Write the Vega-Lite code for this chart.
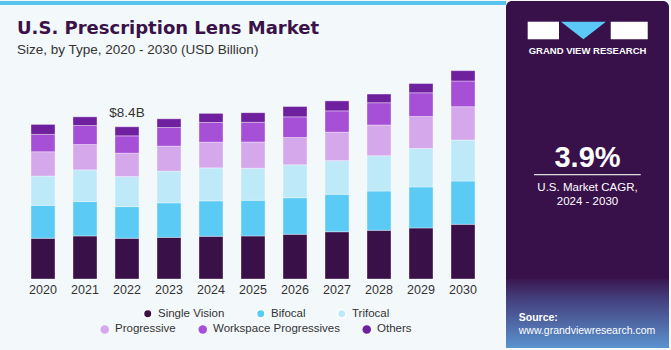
{
  "$schema": "https://vega.github.io/schema/vega-lite/v6.json",
  "background": "#f3f8fb",
  "padding": {"left": 0, "top": 0, "right": 2, "bottom": 3},
  "spacing": 0,
  "resolve": {"scale": {"color": "independent", "fill": "independent"}},
  "config": {
    "view": {"stroke": null},
    "legend": {
      "symbolType": "circle",
      "symbolSize": 72,
      "labelFont": "Liberation Sans",
      "labelFontSize": 11.5,
      "labelColor": "#333333",
      "columnPadding": 21,
      "labelOffset": 4.5,
      "padding": 0,
      "rowPadding": 4
    }
  },
  "hconcat": [
    {
      "width": 506,
      "height": 278,
      "title": {
        "text": "U.S. Prescription Lens Market",
        "subtitle": "Size, by Type, 2020 - 2030 (USD Billion)",
        "anchor": "start",
        "frame": "group",
        "orient": "top",
        "offset": -56,
        "dx": 17,
        "font": "DejaVu Sans",
        "fontSize": 18,
        "fontWeight": "bold",
        "color": "#3a1248",
        "subtitleFont": "Liberation Sans",
        "subtitleFontSize": 13.5,
        "subtitleColor": "#333333",
        "subtitlePadding": 5
      },
      "data": {
        "values": [
          {"year": "2020", "type": "Single Vision", "k": 1, "value": 2.25},
          {"year": "2020", "type": "Bifocal", "k": 2, "value": 1.82},
          {"year": "2020", "type": "Trifocal", "k": 3, "value": 1.62},
          {"year": "2020", "type": "Progressive", "k": 4, "value": 1.34},
          {"year": "2020", "type": "Workspace Progressives", "k": 5, "value": 0.96},
          {"year": "2020", "type": "Others", "k": 6, "value": 0.55},
          {"year": "2021", "type": "Single Vision", "k": 1, "value": 2.38},
          {"year": "2021", "type": "Bifocal", "k": 2, "value": 1.90},
          {"year": "2021", "type": "Trifocal", "k": 3, "value": 1.75},
          {"year": "2021", "type": "Progressive", "k": 4, "value": 1.40},
          {"year": "2021", "type": "Workspace Progressives", "k": 5, "value": 1.05},
          {"year": "2021", "type": "Others", "k": 6, "value": 0.48},
          {"year": "2022", "type": "Single Vision", "k": 1, "value": 2.25},
          {"year": "2022", "type": "Bifocal", "k": 2, "value": 1.75},
          {"year": "2022", "type": "Trifocal", "k": 3, "value": 1.66},
          {"year": "2022", "type": "Progressive", "k": 4, "value": 1.29},
          {"year": "2022", "type": "Workspace Progressives", "k": 5, "value": 0.96},
          {"year": "2022", "type": "Others", "k": 6, "value": 0.50},
          {"year": "2023", "type": "Single Vision", "k": 1, "value": 2.30},
          {"year": "2023", "type": "Bifocal", "k": 2, "value": 1.91},
          {"year": "2023", "type": "Trifocal", "k": 3, "value": 1.75},
          {"year": "2023", "type": "Progressive", "k": 4, "value": 1.38},
          {"year": "2023", "type": "Workspace Progressives", "k": 5, "value": 1.03},
          {"year": "2023", "type": "Others", "k": 6, "value": 0.48},
          {"year": "2024", "type": "Single Vision", "k": 1, "value": 2.36},
          {"year": "2024", "type": "Bifocal", "k": 2, "value": 1.96},
          {"year": "2024", "type": "Trifocal", "k": 3, "value": 1.82},
          {"year": "2024", "type": "Progressive", "k": 4, "value": 1.42},
          {"year": "2024", "type": "Workspace Progressives", "k": 5, "value": 1.09},
          {"year": "2024", "type": "Others", "k": 6, "value": 0.50},
          {"year": "2025", "type": "Single Vision", "k": 1, "value": 2.38},
          {"year": "2025", "type": "Bifocal", "k": 2, "value": 1.97},
          {"year": "2025", "type": "Trifocal", "k": 3, "value": 1.77},
          {"year": "2025", "type": "Progressive", "k": 4, "value": 1.45},
          {"year": "2025", "type": "Workspace Progressives", "k": 5, "value": 1.09},
          {"year": "2025", "type": "Others", "k": 6, "value": 0.53},
          {"year": "2026", "type": "Single Vision", "k": 1, "value": 2.47},
          {"year": "2026", "type": "Bifocal", "k": 2, "value": 2.02},
          {"year": "2026", "type": "Trifocal", "k": 3, "value": 1.82},
          {"year": "2026", "type": "Progressive", "k": 4, "value": 1.51},
          {"year": "2026", "type": "Workspace Progressives", "k": 5, "value": 1.14},
          {"year": "2026", "type": "Others", "k": 6, "value": 0.57},
          {"year": "2027", "type": "Single Vision", "k": 1, "value": 2.61},
          {"year": "2027", "type": "Bifocal", "k": 2, "value": 2.07},
          {"year": "2027", "type": "Trifocal", "k": 3, "value": 1.86},
          {"year": "2027", "type": "Progressive", "k": 4, "value": 1.57},
          {"year": "2027", "type": "Workspace Progressives", "k": 5, "value": 1.18},
          {"year": "2027", "type": "Others", "k": 6, "value": 0.55},
          {"year": "2028", "type": "Single Vision", "k": 1, "value": 2.69},
          {"year": "2028", "type": "Bifocal", "k": 2, "value": 2.17},
          {"year": "2028", "type": "Trifocal", "k": 3, "value": 1.95},
          {"year": "2028", "type": "Progressive", "k": 4, "value": 1.70},
          {"year": "2028", "type": "Workspace Progressives", "k": 5, "value": 1.23},
          {"year": "2028", "type": "Others", "k": 6, "value": 0.48},
          {"year": "2029", "type": "Single Vision", "k": 1, "value": 2.82},
          {"year": "2029", "type": "Bifocal", "k": 2, "value": 2.27},
          {"year": "2029", "type": "Trifocal", "k": 3, "value": 2.12},
          {"year": "2029", "type": "Progressive", "k": 4, "value": 1.77},
          {"year": "2029", "type": "Workspace Progressives", "k": 5, "value": 1.31},
          {"year": "2029", "type": "Others", "k": 6, "value": 0.51},
          {"year": "2030", "type": "Single Vision", "k": 1, "value": 3.02},
          {"year": "2030", "type": "Bifocal", "k": 2, "value": 2.39},
          {"year": "2030", "type": "Trifocal", "k": 3, "value": 2.27},
          {"year": "2030", "type": "Progressive", "k": 4, "value": 1.84},
          {"year": "2030", "type": "Workspace Progressives", "k": 5, "value": 1.42},
          {"year": "2030", "type": "Others", "k": 6, "value": 0.57}
        ]
      },
      "layer": [
        {
          "mark": {"type": "bar", "stroke": "#ffffff", "strokeWidth": 0.6, "strokeOpacity": 0.6},
          "encoding": {
            "x": {
              "field": "year", "type": "ordinal",
              "scale": {"paddingInner": 0.4286, "paddingOuter": 0.738},
              "axis": {"title": null, "labelAngle": 0, "ticks": false, "domain": false, "labelFont": "Liberation Sans", "labelFontSize": 12.5, "labelColor": "#333333", "labelPadding": 4}
            },
            "y": {"field": "value", "type": "quantitative", "stack": "zero", "scale": {"domain": [0, 15.36], "nice": false}, "axis": null},
            "order": {"field": "k", "type": "quantitative"},
            "color": {
              "field": "type", "type": "nominal",
              "sort": ["Single Vision", "Bifocal", "Trifocal", "Progressive", "Workspace Progressives", "Others"],
              "scale": {
                "domain": ["Single Vision", "Bifocal", "Trifocal", "Progressive", "Workspace Progressives", "Others"],
                "range": ["#3a1048", "#5bcbf5", "#bde9f9", "#d5a8ec", "#a650d8", "#6e209e"]
              },
              "legend": {"title": null, "orient": "none", "legendX": 142, "legendY": 307, "direction": "horizontal", "columnPadding": 28, "values": ["Single Vision", "Bifocal", "Trifocal"]}
            }
          }
        },
        {
          "transform": [{"filter": {"field": "type", "oneOf": ["Progressive", "Workspace Progressives", "Others"]}}],
          "mark": {"type": "point", "filled": true, "opacity": 0},
          "encoding": {
            "x": {"field": "year", "type": "ordinal"},
            "y": {"datum": 0, "type": "quantitative"},
            "fill": {
              "field": "type", "type": "nominal",
              "scale": {
                "domain": ["Progressive", "Workspace Progressives", "Others"],
                "range": ["#d5a8ec", "#a650d8", "#6e209e"]
              },
              "legend": {"title": null, "orient": "none", "legendX": 99, "legendY": 322.3, "direction": "horizontal", "symbolOpacity": 1}
            }
          }
        },
        {
          "data": {"values": [{"part": "top strip"}]},
          "mark": {"type": "point", "filled": true, "opacity": 1, "color": "#5bc4ee", "shape": "M-1,-0.0079L1,-0.0079L1,0.0079L-1,0.0079Z", "size": 256036},
          "encoding": {
            "x": {"datum": "2025", "type": "ordinal"},
            "y": {"datum": 15.25, "type": "quantitative"}
          }
        },
        {
          "data": {"values": [{"year": "2022", "total": 8.41, "label": "$8.4B"}]},
          "mark": {"type": "text", "dy": -10, "baseline": "alphabetic", "font": "Liberation Sans", "fontSize": 13.5, "color": "#333333"},
          "encoding": {
            "x": {"field": "year", "type": "ordinal"},
            "y": {"field": "total", "type": "quantitative"},
            "text": {"field": "label"}
          }
        }
      ]
    },
    {
      "width": 163,
      "height": 347,
      "view": {"fill": "#38114b", "stroke": null, "cornerRadius": 6},
      "layer": [
        {
          "data": {"values": [{"part": "bottom glow"}]},
          "mark": {
            "type": "point", "filled": true, "opacity": 1, "shape": "M-1,-0.4233L1,-0.4233L1,0.4233L-1,0.4233Z", "size": 26569,
            "color": {
              "gradient": "linear", "x1": 0, "y1": 0, "x2": 0, "y2": 1,
              "stops": [
                {"offset": 0, "color": "#3a1850"},
                {"offset": 0.25, "color": "#433a78"},
                {"offset": 1, "color": "#5a93cf"}
              ]
            }
          },
          "encoding": {
            "x": {"datum": 0.5, "type": "quantitative", "scale": {"domain": [0, 1]}, "axis": null},
            "y": {"datum": 0.9006, "type": "quantitative", "scale": {"domain": [0, 1], "reverse": true}, "axis": null}
          }
        },
        {
          "data": {"values": [{"part": "G"}]},
          "mark": {"type": "point", "filled": true, "opacity": 1, "color": "#ffffff", "shape": "M-1,-0.562L1,-0.562L1,0.562L-1,0.562Z", "size": 980},
          "encoding": {
            "x": {"datum": 0.229, "type": "quantitative"},
            "y": {"datum": 0.085, "type": "quantitative"}
          }
        },
        {
          "data": {"values": [{"part": "R"}]},
          "mark": {"type": "point", "filled": true, "opacity": 1, "color": "#ffffff", "shape": "M-1,-0.476L1,-0.476L1,0.476L-1,0.476Z", "size": 1369},
          "encoding": {
            "x": {"datum": 0.756, "type": "quantitative"},
            "y": {"datum": 0.085, "type": "quantitative"}
          }
        },
        {
          "data": {"values": [{"part": "V"}]},
          "mark": {"type": "point", "filled": true, "opacity": 1, "color": "#5bc8f5", "shape": "M-1,-0.391L1,-0.391L0,0.391Z", "size": 2025},
          "encoding": {
            "x": {"datum": 0.475, "type": "quantitative"},
            "y": {"datum": 0.085, "type": "quantitative"}
          }
        },
        {
          "data": {"values": [{"part": "line"}]},
          "mark": {"type": "point", "filled": true, "opacity": 1, "color": "#dddddd", "shape": "M-1,-0.0122L1,-0.0122L1,0.0122L-1,0.0122Z", "size": 11385},
          "encoding": {
            "x": {"datum": 0.499, "type": "quantitative"},
            "y": {"datum": 0.5006, "type": "quantitative"}
          }
        },
        {
          "data": {"values": [{"label": "GRAND VIEW RESEARCH"}]},
          "mark": {"type": "text", "align": "center", "baseline": "alphabetic", "font": "Liberation Sans", "fontSize": 9.5, "fontWeight": "bold", "color": "#ffffff"},
          "encoding": {
            "x": {"datum": 0.5, "type": "quantitative"},
            "y": {"datum": 0.1536, "type": "quantitative"},
            "text": {"field": "label"}
          }
        },
        {
          "data": {"values": [{"label": "3.9%"}]},
          "mark": {"type": "text", "align": "center", "baseline": "alphabetic", "font": "Liberation Sans", "fontSize": 29, "fontWeight": "bold", "color": "#ffffff"},
          "encoding": {
            "x": {"datum": 0.5, "type": "quantitative"},
            "y": {"datum": 0.4775, "type": "quantitative"},
            "text": {"field": "label"}
          }
        },
        {
          "data": {"values": [{"label": "U.S. Market CAGR,"}]},
          "mark": {"type": "text", "align": "center", "baseline": "alphabetic", "font": "Liberation Sans", "fontSize": 11.5, "color": "#ffffff"},
          "encoding": {
            "x": {"datum": 0.5, "type": "quantitative"},
            "y": {"datum": 0.5476, "type": "quantitative"},
            "text": {"field": "label"}
          }
        },
        {
          "data": {"values": [{"label": "2024 - 2030"}]},
          "mark": {"type": "text", "align": "center", "baseline": "alphabetic", "font": "Liberation Sans", "fontSize": 11.5, "color": "#ffffff"},
          "encoding": {
            "x": {"datum": 0.5, "type": "quantitative"},
            "y": {"datum": 0.5879, "type": "quantitative"},
            "text": {"field": "label"}
          }
        },
        {
          "data": {"values": [{"label": "Source:"}]},
          "mark": {"type": "text", "align": "left", "baseline": "alphabetic", "font": "Liberation Sans", "fontSize": 10.5, "fontWeight": "bold", "color": "#ffffff"},
          "encoding": {
            "x": {"datum": 0.078, "type": "quantitative"},
            "y": {"datum": 0.922, "type": "quantitative"},
            "text": {"field": "label"}
          }
        },
        {
          "data": {"values": [{"label": "www.grandviewresearch.com"}]},
          "mark": {"type": "text", "align": "left", "baseline": "alphabetic", "font": "Liberation Sans", "fontSize": 10.5, "color": "#ffffff"},
          "encoding": {
            "x": {"datum": 0.078, "type": "quantitative"},
            "y": {"datum": 0.9588, "type": "quantitative"},
            "text": {"field": "label"}
          }
        }
      ]
    }
  ]
}
